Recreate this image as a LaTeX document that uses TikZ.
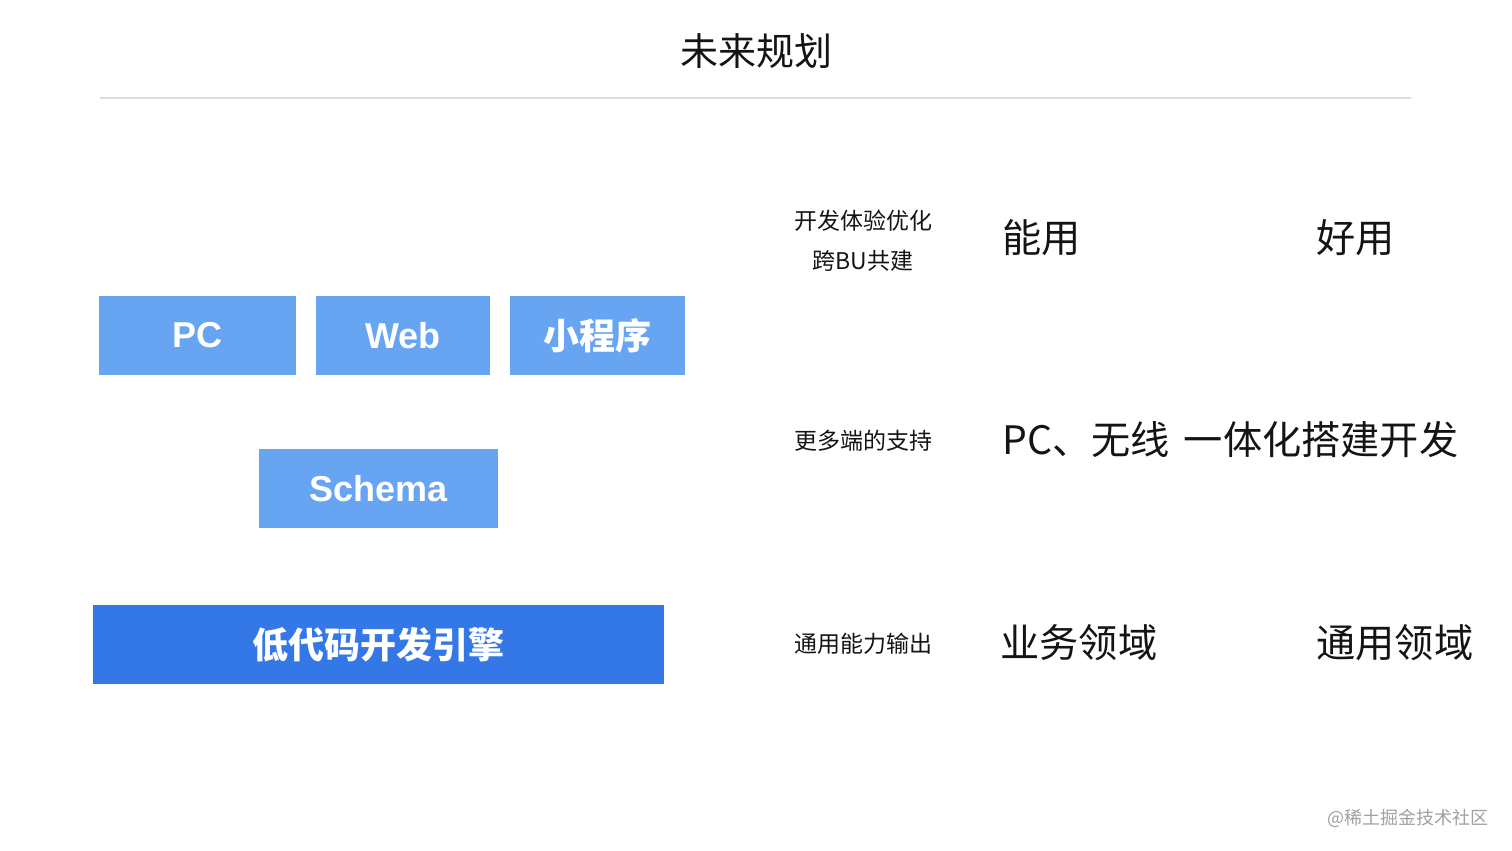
\documentclass[tikz,border=0pt]{standalone}
\usepackage{fontspec}
\setmainfont{Liberation Sans}
\newfontfamily\cjk{Noto Sans CJK SC}
\usetikzlibrary{positioning}
\definecolor{platblue}{RGB}{103, 165, 242}
\definecolor{engineblue}{RGB}{52, 119, 230}
\definecolor{ruleline}{RGB}{221, 221, 221}
\definecolor{marktext}{RGB}{160, 160, 160}
\definecolor{inktext}{RGB}{20, 20, 20}

\begin{document}
\begin{tikzpicture}[x=0.5pt, y=-0.5pt,
  platbox/.style={fill=platblue, text=white, minimum height=39.5pt, inner sep=0pt,
    font=\fontsize{18pt}{20pt}\selectfont\bfseries},
  enginebox/.style={platbox, fill=engineblue},
  rowlabel/.style={anchor=base, inner sep=0pt, text=inktext,
    font=\cjk\fontsize{11.5pt}{13pt}\selectfont},
  goaltext/.style={anchor=base west, inner sep=0pt, text=inktext,
    font=\cjk\fontsize{19.6pt}{21pt}\selectfont}]
  \useasboundingbox (0,0) rectangle (1512,851);

  % Title and rule
  \node[anchor=base, inner sep=0pt, text=inktext, font=\cjk\fontsize{19pt}{21pt}\selectfont]
    (title) at (756,65) {未来规划};
  \draw[ruleline, line width=1pt] (100,98) -- (1411,98);

  % Platform stack
  \node[platbox, minimum width=98.5pt] (pc) at (197.5,335.5) {PC};
  \node[platbox, minimum width=87pt] (web) at (403,335.5) {Web};
  \node[platbox, minimum width=87.5pt, font=\cjk\fontsize{18pt}{20pt}\selectfont\bfseries]
    (mini) at (597.5,335.5) {小程序};
  \node[platbox, minimum width=119.5pt] (schema) at (378.5,488.5) {Schema};
  \node[enginebox, minimum width=285.5pt, font=\cjk\fontsize{18pt}{20pt}\selectfont\bfseries]
    (engine) at (378.5,644.5) {低代码开发引擎};

  % Row labels
  \node[rowlabel] (devexp) at (863,229) {开发体验优化};
  \node[rowlabel] (crossbu) at (863,269) {跨BU共建};
  \node[rowlabel] (moreend) at (863,449) {更多端的支持};
  \node[rowlabel] (common) at (863,652) {通用能力输出};

  % Goals
  \node[goaltext] (usable) at (1002,252) {能用};
  \node[goaltext] (good) at (1316,252) {好用};
  \node[goaltext] (multi) at (1002,454) {PC、无线\hspace{7pt}一体化搭建开发};
  \node[goaltext] (biz) at (1000,657) {业务领域};
  \node[goaltext] (general) at (1316,657) {通用领域};

  % Watermark
  \node[anchor=base east, inner sep=0pt, text=marktext, font=\cjk\fontsize{9pt}{11pt}\selectfont]
    (mark) at (1489,824) {@稀土掘金技术社区};
\end{tikzpicture}
\end{document}
